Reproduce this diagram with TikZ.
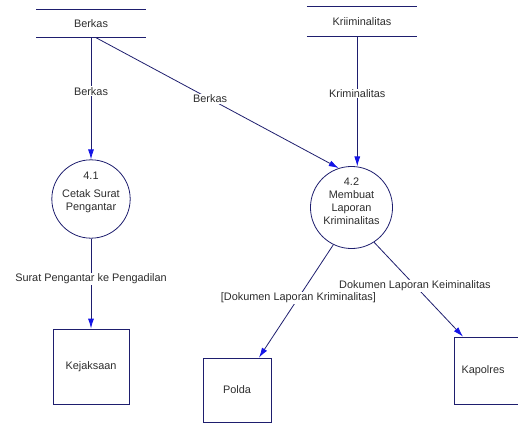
\documentclass[tikz,border=0pt]{standalone}
\usepackage{fontspec}
\setmainfont{Liberation Sans}
\usetikzlibrary{arrows.meta}
\definecolor{ln}{RGB}{30,30,110}
\definecolor{tx}{RGB}{45,45,45}
\definecolor{tipc}{RGB}{20,20,230}
\begin{document}
\begin{tikzpicture}[x=1pt,y=-1pt, font=\fontsize{10.9}{13}\selectfont, text=tx,
  every node/.style={inner sep=0pt},
  flow/.style={draw=ln, line width=0.8pt, -{Latex[length=10pt,width=6pt,color=tipc]}},
  lbl/.style={fill=white, inner sep=0.8pt},
  proc/.style={circle, draw=ln, line width=0.8pt, align=center},
  ent/.style={draw=ln, line width=0.8pt, rectangle},
  store/.style={minimum height=28pt}]
\useasboundingbox (0,0) rectangle (518,425);
% data stores
\node[store, minimum width=109pt] (berkas) at (91,23.5) {Berkas};
\draw[ln, line width=0.8pt] (berkas.north west) -- (berkas.north east)
  (berkas.south west) -- (berkas.south east);
\node[store, minimum width=110pt, minimum height=29pt] (kr) at (362,21.5) {Kriiminalitas};
\draw[ln, line width=0.8pt] (kr.north west) -- (kr.north east)
  (kr.south west) -- (kr.south east);
% processes
\node[proc, minimum size=75pt] (p41) at (91,199) {4.1\\[5pt]Cetak Surat\\Pengantar\\[2pt]\mbox{}};
\node[proc, minimum size=73pt] (p42) at (351.5,207.5) {4.2\\Membuat\\Laporan\\Kriminalitas\\\mbox{}};
% entities
\node[ent, minimum width=76pt, minimum height=75pt] (kejaksaan) at (91,366.5) {Kejaksaan};
\node[ent, minimum width=68pt, minimum height=64pt] (polda) at (237,390) {Polda};
\node[ent, minimum width=68pt, minimum height=67pt] (kapolres) at (488,370.5) {Kapolres\hspace*{10pt}};
% flows
\draw[flow] (berkas.south) -- node[lbl,pos=0.44]{Berkas} (p41.north);
\draw[flow] ([xshift=5pt]berkas.south) -- node[lbl,pos=0.47]{Berkas} (p42.108);
\draw[flow] (p42.82 |- kr.south) -- node[lbl,pos=0.44]{Kriminalitas} (p42.82);
\draw[flow] (p41.south) -- node[lbl,pos=0.45]{Surat Pengantar ke Pengadilan} (kejaksaan.north);
\draw[flow] (p42.303) -- node[lbl,pos=0.46]{Dokumen Laporan Keiminalitas} ([xshift=-25pt]kapolres.north);
\draw[flow] (p42.244) -- node[lbl,pos=0.47]{[Dokumen Laporan Kriminalitas]} ([xshift=22pt]polda.north);
\end{tikzpicture}
\end{document}
